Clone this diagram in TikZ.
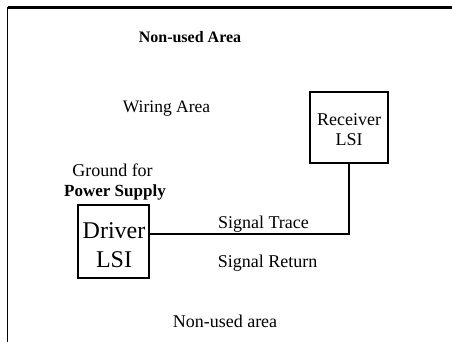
\documentclass[tikz,border=0pt]{standalone}
\usepackage{fontspec}
\setmainfont{Liberation Serif}
\usetikzlibrary{calc}
\tikzset{
  lbl/.style={inner sep=0pt, anchor=base, font=\fontsize{18}{20}\selectfont},
  lblbold/.style={lbl, font=\fontsize{17}{20}\selectfont\bfseries},
  lsibox/.style={draw, line width=1.1pt, rectangle, inner sep=0pt},
  frame/.style={line width=1.4pt},
  trace/.style={line width=2.6pt}
}
\begin{document}
\begin{tikzpicture}[x=1pt,y=1pt]
  \useasboundingbox (0,0) rectangle (452,-342);
  % board outline (top and left edges)
  \coordinate (tl) at (7.5,-7.5);
  \coordinate (tr) at (452,-7.5);
  \coordinate (bl) at (7.5,-342);
  \draw[line width=2.4pt] (tl) -- (tr);
  \draw[frame] (tl) -- (bl);

  % LSI packages
  \node[lsibox, minimum width=71pt, minimum height=73pt] (drv) at (113.5,-241.5) {};
  \node[lsibox, minimum width=78pt, minimum height=71pt] (recv) at (349,-127.5) {};

  % signal trace from driver to receiver
  \draw[trace] ($(drv.north east)!0.4!(drv.south east)$) -| (recv.south);

  % labels
  \node[lbl, font=\fontsize{16}{18}\selectfont\bfseries] (nuTop) at (190,-43) {Non-used Area};
  \node[lbl, font=\fontsize{17.5}{20}\selectfont] (wiring) at (166.5,-112.5) {Wiring Area};
  \node[lbl] (recvA) at (349,-125) {Receiver};
  \node[lbl] (recvB) at (349,-145) {LSI};
  \node[lbl] (gnd) at (112.5,-176) {Ground for};
  \node[lblbold] (pwr) at (115,-196) {Power Supply};
  \node[lbl, font=\fontsize{24}{29}\selectfont] (drvA) at (114,-238) {Driver};
  \node[lbl, font=\fontsize{24}{29}\selectfont] (drvB) at (114,-267) {LSI};
  \node[lbl] (sigT) at (263.5,-228) {Signal Trace};
  \node[lbl] (sigR) at (267.5,-267) {Signal Return};
  \node[lbl] (nuBot) at (225,-327) {Non-used area};
\end{tikzpicture}
\end{document}
